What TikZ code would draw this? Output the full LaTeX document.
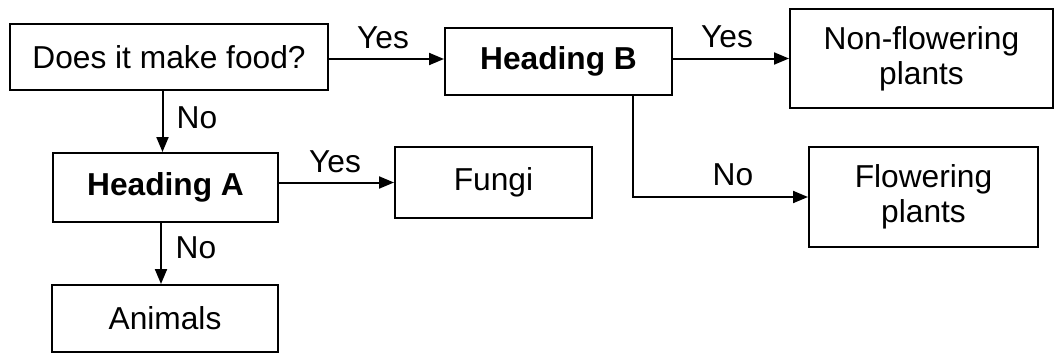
\documentclass[tikz,border=0pt]{standalone}
\usepackage{fontspec}
\setmainfont{Liberation Sans}
\usetikzlibrary{arrows.meta}
\begin{document}
\begin{tikzpicture}[x=1pt,y=-1pt,
  every node/.style={font=\fontsize{31.7}{35}\selectfont},
  box/.style={draw, line width=2pt, inner sep=0pt, align=center},
  arr/.style={line width=2pt, -{Triangle[length=15pt,width=12pt]}},
  lbl/.style={inner sep=0pt}]
\useasboundingbox (0,0) rectangle (1055,354);
\node[box, minimum width=318pt, minimum height=66pt] (q) at (169,57) {Does it make food?};
\node[box, minimum width=227pt, minimum height=67pt, font=\fontsize{31.7}{35}\selectfont\bfseries] (hb) at (558.5,61.5) {Heading B};
\node[box, minimum width=263pt, minimum height=99pt] (nf) at (921.5,58.5) {Non-flowering\\plants};
\node[box, minimum width=225pt, minimum height=69pt, font=\fontsize{31.7}{35}\selectfont\bfseries] (ha) at (165.5,187.5) {Heading A};
\node[box, minimum width=197pt, minimum height=71pt] (fu) at (493.5,182.5) {Fungi};
\node[box, minimum width=229pt, minimum height=100pt] (fl) at (923.5,197) {Flowering\\plants};
\node[box, minimum width=226pt, minimum height=67pt] (an) at (165,318.5) {Animals};
\draw[arr] (q.east |- 0,59) -- (hb.west |- 0,59);
\draw[arr] (hb.east |- nf.west) -- (nf.west);
\draw[arr] ([xshift=-40pt]hb.south east) |- (fl.west);
\draw[arr] ([xshift=-3pt]ha.north |- q.south) -- ([xshift=-3pt]ha.north);
\draw[arr] (ha.east |- fu.west) -- (fu.west);
\draw[arr] ([xshift=-4pt]an.north |- ha.south) -- ([xshift=-4pt]an.north);
\node[lbl] (y1) at (383,38) {Yes};
\node[lbl] (y2) at (727,37) {Yes};
\node[lbl] (y3) at (335,162) {Yes};
\node[lbl] (n1) at (197,118) {No};
\node[lbl] (n2) at (196,248) {No};
\node[lbl] (n3) at (733,175) {No};
\end{tikzpicture}
\end{document}
